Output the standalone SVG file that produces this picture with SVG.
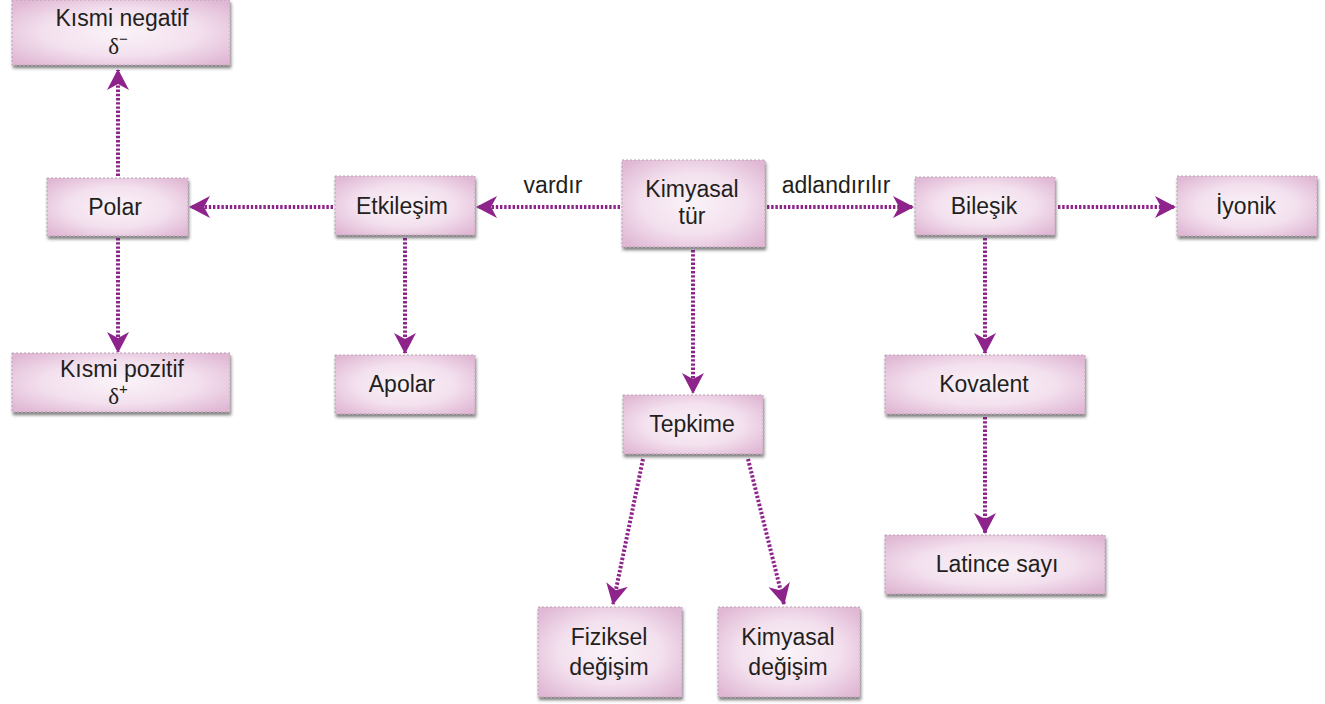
<svg xmlns="http://www.w3.org/2000/svg" width="1325" height="704" viewBox="0 0 1325 704">
  <defs>
    <radialGradient id="boxFill" cx="50%" cy="50%" r="65%">
      <stop offset="0" stop-color="#faf3f8"/>
      <stop offset="0.55" stop-color="#f3e0ee"/>
      <stop offset="1" stop-color="#e0b8d4"/>
    </radialGradient>
    <filter id="shadow" x="-10%" y="-10%" width="120%" height="140%">
      <feDropShadow dx="1" dy="3" stdDeviation="1.5" flood-color="#333" flood-opacity="0.6"/>
    </filter>
    <marker id="head" markerUnits="userSpaceOnUse" markerWidth="24" markerHeight="24" refX="20" refY="11" orient="auto">
      <path d="M0,0 L21,11 L0,22 L6,11 Z" fill="#8e238c"/>
    </marker>
    <style>
      .box { fill: url(#boxFill); stroke: #b8a2b3; stroke-width: 1; stroke-dasharray: 2 2; filter: url(#shadow); }
      .lbl { font-family: "Liberation Sans", Arial, sans-serif; font-size: 23px; fill: #231f20; text-anchor: middle; }
      .greek { font-family: "Liberation Serif", "Times New Roman", serif; }
      .link { fill: none; stroke: #8e238c; stroke-width: 4; stroke-dasharray: 2.4 1.8; marker-end: url(#head); }
    </style>
  </defs>

  <g id="connectors">
    <path class="link" d="M118,176 L118,70"/>
    <path class="link" d="M118,238 L118,352"/>
    <path class="link" d="M333,207 L190,207"/>
    <path class="link" d="M620,207 L477,207"/>
    <path class="link" d="M767,207 L913,207"/>
    <path class="link" d="M1058,207 L1175,207"/>
    <path class="link" d="M405,238 L405,353"/>
    <path class="link" d="M693,250 L693,393"/>
    <path class="link" d="M985,238 L985,353"/>
    <path class="link" d="M985,417 L985,533"/>
    <path class="link" d="M643,459 L613,604"/>
    <path class="link" d="M748,459 L784,604"/>
    <text class="lbl" x="553" y="193">vardır</text>
    <text class="lbl" x="836" y="193">adlandırılır</text>
  </g>

  <g id="kismi-negatif">
    <rect class="box" x="12" y="0" width="218" height="65"/>
    <text class="lbl" x="122" y="26">Kısmi negatif</text>
    <text class="lbl" x="118" y="54"><tspan class="greek">δ</tspan><tspan font-size="15" dy="-10">−</tspan></text>
  </g>
  <g id="polar">
    <rect class="box" x="47" y="178" width="141" height="58"/>
    <text class="lbl" x="115" y="215">Polar</text>
  </g>
  <g id="kismi-pozitif">
    <rect class="box" x="12" y="353" width="218" height="59"/>
    <text class="lbl" x="122" y="377">Kısmi pozitif</text>
    <text class="lbl" x="118" y="404"><tspan class="greek">δ</tspan><tspan font-size="15" dy="-10">+</tspan></text>
  </g>
  <g id="etkilesim">
    <rect class="box" x="335" y="176" width="140" height="59"/>
    <text class="lbl" x="402" y="214">Etkileşim</text>
  </g>
  <g id="apolar">
    <rect class="box" x="335" y="355" width="140" height="59"/>
    <text class="lbl" x="402" y="392">Apolar</text>
  </g>
  <g id="kimyasal-tur">
    <rect class="box" x="622" y="160" width="143" height="87"/>
    <text class="lbl" x="692" y="197">Kimyasal</text>
    <text class="lbl" x="692" y="224">tür</text>
  </g>
  <g id="bilesik">
    <rect class="box" x="915" y="177" width="140" height="58"/>
    <text class="lbl" x="984" y="214">Bileşik</text>
  </g>
  <g id="iyonik">
    <rect class="box" x="1177" y="176" width="140" height="60"/>
    <text class="lbl" x="1246" y="214">İyonik</text>
  </g>
  <g id="kovalent">
    <rect class="box" x="885" y="355" width="200" height="59"/>
    <text class="lbl" x="984" y="392">Kovalent</text>
  </g>
  <g id="latince-sayi">
    <rect class="box" x="885" y="535" width="220" height="59"/>
    <text class="lbl" x="997" y="572">Latince sayı</text>
  </g>
  <g id="tepkime">
    <rect class="box" x="623" y="395" width="140" height="59"/>
    <text class="lbl" x="692" y="432">Tepkime</text>
  </g>
  <g id="fiziksel-degisim">
    <rect class="box" x="538" y="607" width="144" height="90"/>
    <text class="lbl" x="609" y="645">Fiziksel</text>
    <text class="lbl" x="609" y="675">değişim</text>
  </g>
  <g id="kimyasal-degisim">
    <rect class="box" x="718" y="607" width="142" height="90"/>
    <text class="lbl" x="788" y="645">Kimyasal</text>
    <text class="lbl" x="788" y="675">değişim</text>
  </g>
</svg>
